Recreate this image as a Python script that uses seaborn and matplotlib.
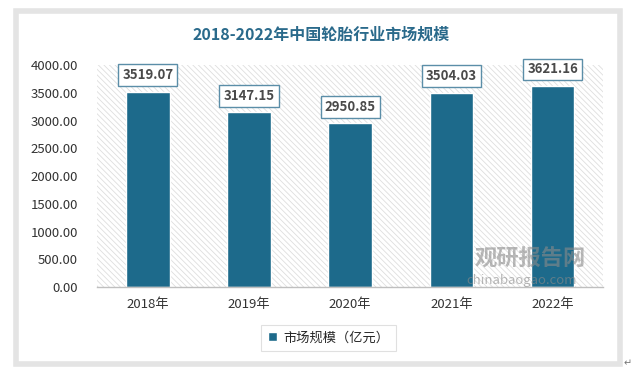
import pandas as pd
import seaborn as sns
import matplotlib.pyplot as plt
from matplotlib.patches import Rectangle

# Datos del gráfico
anios = ["2018年", "2019年", "2020年", "2021年", "2022年"]
valores = [3519.07, 3147.15, 2950.85, 3504.03, 3621.16]
titulo = "2018-2022年中国轮胎行业市场规模"
serie = "市场规模（亿元）"

df = pd.DataFrame({"anio": anios, "valor": valores})

sns.set_theme(style="white")
plt.rcParams["font.family"] = ["Noto Sans CJK SC", "DejaVu Sans"]
plt.rcParams["hatch.linewidth"] = 0.6

fig = plt.figure(figsize=(6.35, 3.68), dpi=100)
fig.patch.set_facecolor("white")

# Marco gris exterior
fig.patches.append(Rectangle((0.025, 0.012), 0.952, 0.958, transform=fig.transFigure,
                             fill=False, edgecolor="#e4e4e4", linewidth=4, zorder=0))

ax = fig.add_axes([0.153, 0.220, 0.797, 0.603])

# Fondo rayado del área de trazado
ax.add_patch(Rectangle((0, 0), 1, 1, transform=ax.transAxes, facecolor="white",
                       hatch="\\\\\\\\\\\\", edgecolor="#dedede", linewidth=0, zorder=0))

sns.barplot(data=df, x="anio", y="valor", color="#1d6a8b", width=0.43,
            saturation=1, label=serie, ax=ax, zorder=2)

ax.set_ylim(0, 4000)
ax.set_xlim(-0.5, len(anios) - 0.5)
ax.set_yticks(range(0, 4001, 500))
ax.set_yticklabels([f"{v:.2f}" for v in range(0, 4001, 500)], fontsize=9.5, color="#333333")
ax.tick_params(axis="x", labelsize=9.5, labelcolor="#333333", length=0, pad=8)
ax.tick_params(axis="y", length=0, pad=14)
ax.set_xticks([i + 0.5 for i in range(len(anios) - 1)], minor=True)
ax.tick_params(axis="x", which="minor", length=4, color="#bfbfbf", width=0.8)
ax.set_xlabel("")
ax.set_ylabel("")
for lado in ["top", "right", "left"]:
    ax.spines[lado].set_visible(False)
ax.spines["bottom"].set_color("#bfbfbf")
ax.spines["bottom"].set_linewidth(1)

# Etiquetas de valores
for i, v in enumerate(valores):
    ax.annotate(f"{v:.2f}", xy=(i, v), xytext=(0, 12), textcoords="offset points",
                ha="center", va="center", fontsize=9.5, fontweight="bold", color="#4a4a4a",
                bbox=dict(boxstyle="square,pad=0.3", facecolor="white", edgecolor="#5b8ea8",
                          linewidth=1), zorder=5)

# Título
fig.text(0.505, 0.905, titulo, ha="center", va="center", fontsize=11.5,
         fontweight="bold", color="#2a6a8b")

# Leyenda
leg = ax.legend(loc="center", bbox_to_anchor=(0.518, 0.082), bbox_transform=fig.transFigure,
                fontsize=9.5, frameon=True, fancybox=False, handlelength=0.7,
                handleheight=0.7, handletextpad=0.5, borderpad=0.5)
leg.get_frame().set_edgecolor("#d9d9d9")
leg.get_frame().set_linewidth(0.8)

# Marca de agua
fig.text(0.748, 0.297, "观研报告网", ha="left", va="center", fontsize=16,
         fontweight="bold", color="#8a8a8a", alpha=0.6, zorder=10)
fig.text(0.735, 0.237, "chinabaogao.com", ha="left", va="center", fontsize=9.5,
         color="#8a8a8a", alpha=0.6, zorder=10)

fig.text(0.988, 0.012, "↵", ha="center", va="center", fontsize=7, color="#777777",
         family=["DejaVu Sans"])

fig.savefig("out.png", dpi=100)
